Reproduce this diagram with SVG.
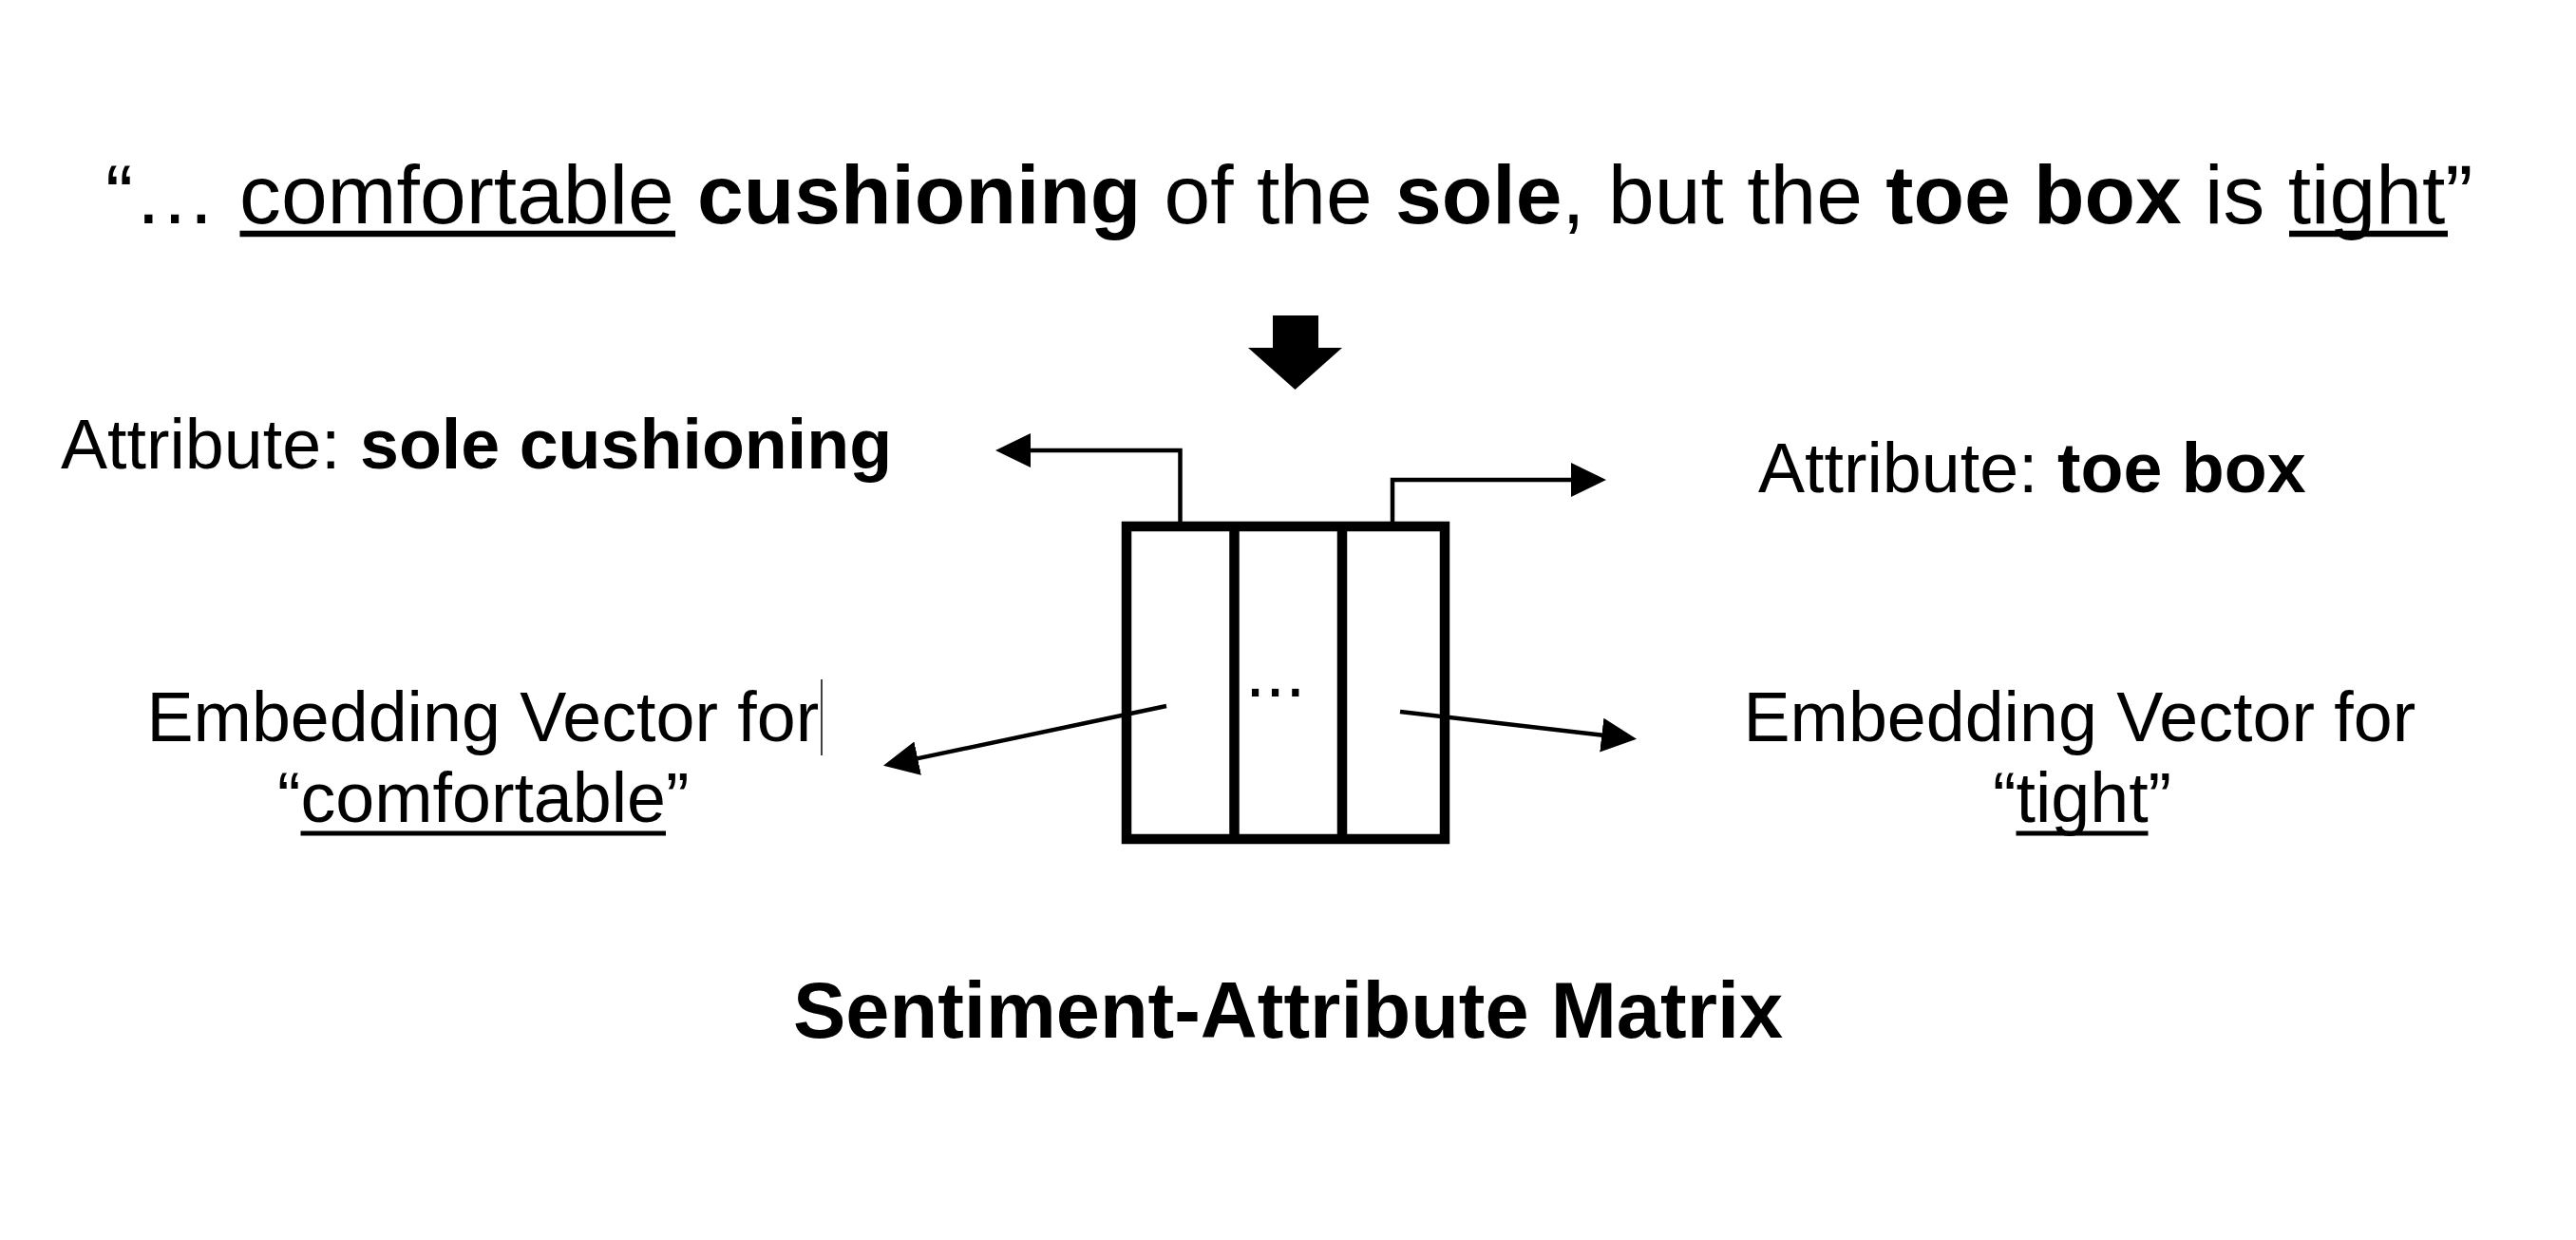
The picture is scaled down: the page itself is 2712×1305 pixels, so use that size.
<svg xmlns="http://www.w3.org/2000/svg" width="2712" height="1305" viewBox="0 0 2712 1305">
  <style>
    text { font-family: "Liberation Sans", Arial, sans-serif; fill: #000; }
    .title { font-size: 87.6px; }
    .lbl { font-size: 73.6px; }
    .cap { font-size: 83px; font-weight: bold; }
    .b { font-weight: bold; }
    .ul { stroke: #000; stroke-width: 6.5; }
    .ul2 { stroke: #000; stroke-width: 5; }
    .conn { fill: none; stroke: #000; stroke-width: 4.5; }
    .box { fill: #fff; stroke: #000; stroke-width: 10.5; }
    .div { stroke: #000; stroke-width: 10.5; }
  </style>
  <defs>
    <marker id="head" markerUnits="userSpaceOnUse" markerWidth="40" markerHeight="40" refX="1" refY="18" orient="auto">
      <path d="M0,0 L37,18 L0,36 Z" fill="#000"/>
    </marker>
  </defs>
  <rect width="2712" height="1305" fill="#fff"/>

  <g id="sentence">
    <text class="title" x="111" y="234.5">“… comfortable <tspan class="b">cushioning</tspan> of the <tspan class="b">sole</tspan>, but the <tspan class="b">toe box</tspan> is tight”</text>
    <line class="ul" x1="252.5" y1="246" x2="711" y2="246"/>
    <line class="ul" x1="2410" y1="246" x2="2577" y2="246"/>
  </g>

  <g id="attribute-left">
    <text class="lbl" x="64" y="493">Attribute: <tspan class="b">sole cushioning</tspan></text>
  </g>

  <g id="attribute-right">
    <text class="lbl" x="1851" y="518">Attribute: <tspan class="b">toe box</tspan></text>
  </g>

  <g id="embedding-left">
    <text class="lbl" x="154.5" y="779.5">Embedding Vector for</text>
    <line x1="865" y1="715" x2="865" y2="795" stroke="#000" stroke-width="1.5"/>
    <text class="lbl" x="292" y="865">“comfortable”</text>
    <line class="ul2" x1="316.5" y1="877" x2="701" y2="877"/>
  </g>

  <g id="embedding-right">
    <text class="lbl" x="1835.5" y="779.5">Embedding Vector for</text>
    <text class="lbl" x="2098" y="865">“tight”</text>
    <line class="ul2" x1="2122.5" y1="877" x2="2261.5" y2="877"/>
  </g>

  <g id="matrix">
    <rect class="box" x="1186" y="554" width="335" height="329"/>
    <line class="div" x1="1299.5" y1="554" x2="1299.5" y2="883"/>
    <line class="div" x1="1413" y1="554" x2="1413" y2="883"/>
    <text x="1311" y="733" font-size="76">...</text>
  </g>

  <g id="caption">
    <text class="cap" x="835" y="1092">Sentiment-Attribute Matrix</text>
  </g>

  <g id="connectors">
    <polygon points="1340,332 1388,332 1388,366 1413,366 1363.5,410 1314,366 1340,366" fill="#000"/>
    <path class="conn" d="M1242.5,549 V474 H1084" marker-end="url(#head)"/>
    <path class="conn" d="M1466,549 V505 H1655" marker-end="url(#head)"/>
    <line class="conn" x1="1228" y1="743" x2="965.2" y2="798.4" marker-end="url(#head)"/>
    <line class="conn" x1="1474" y1="749" x2="1687.3" y2="773.7" marker-end="url(#head)"/>
  </g>
</svg>
